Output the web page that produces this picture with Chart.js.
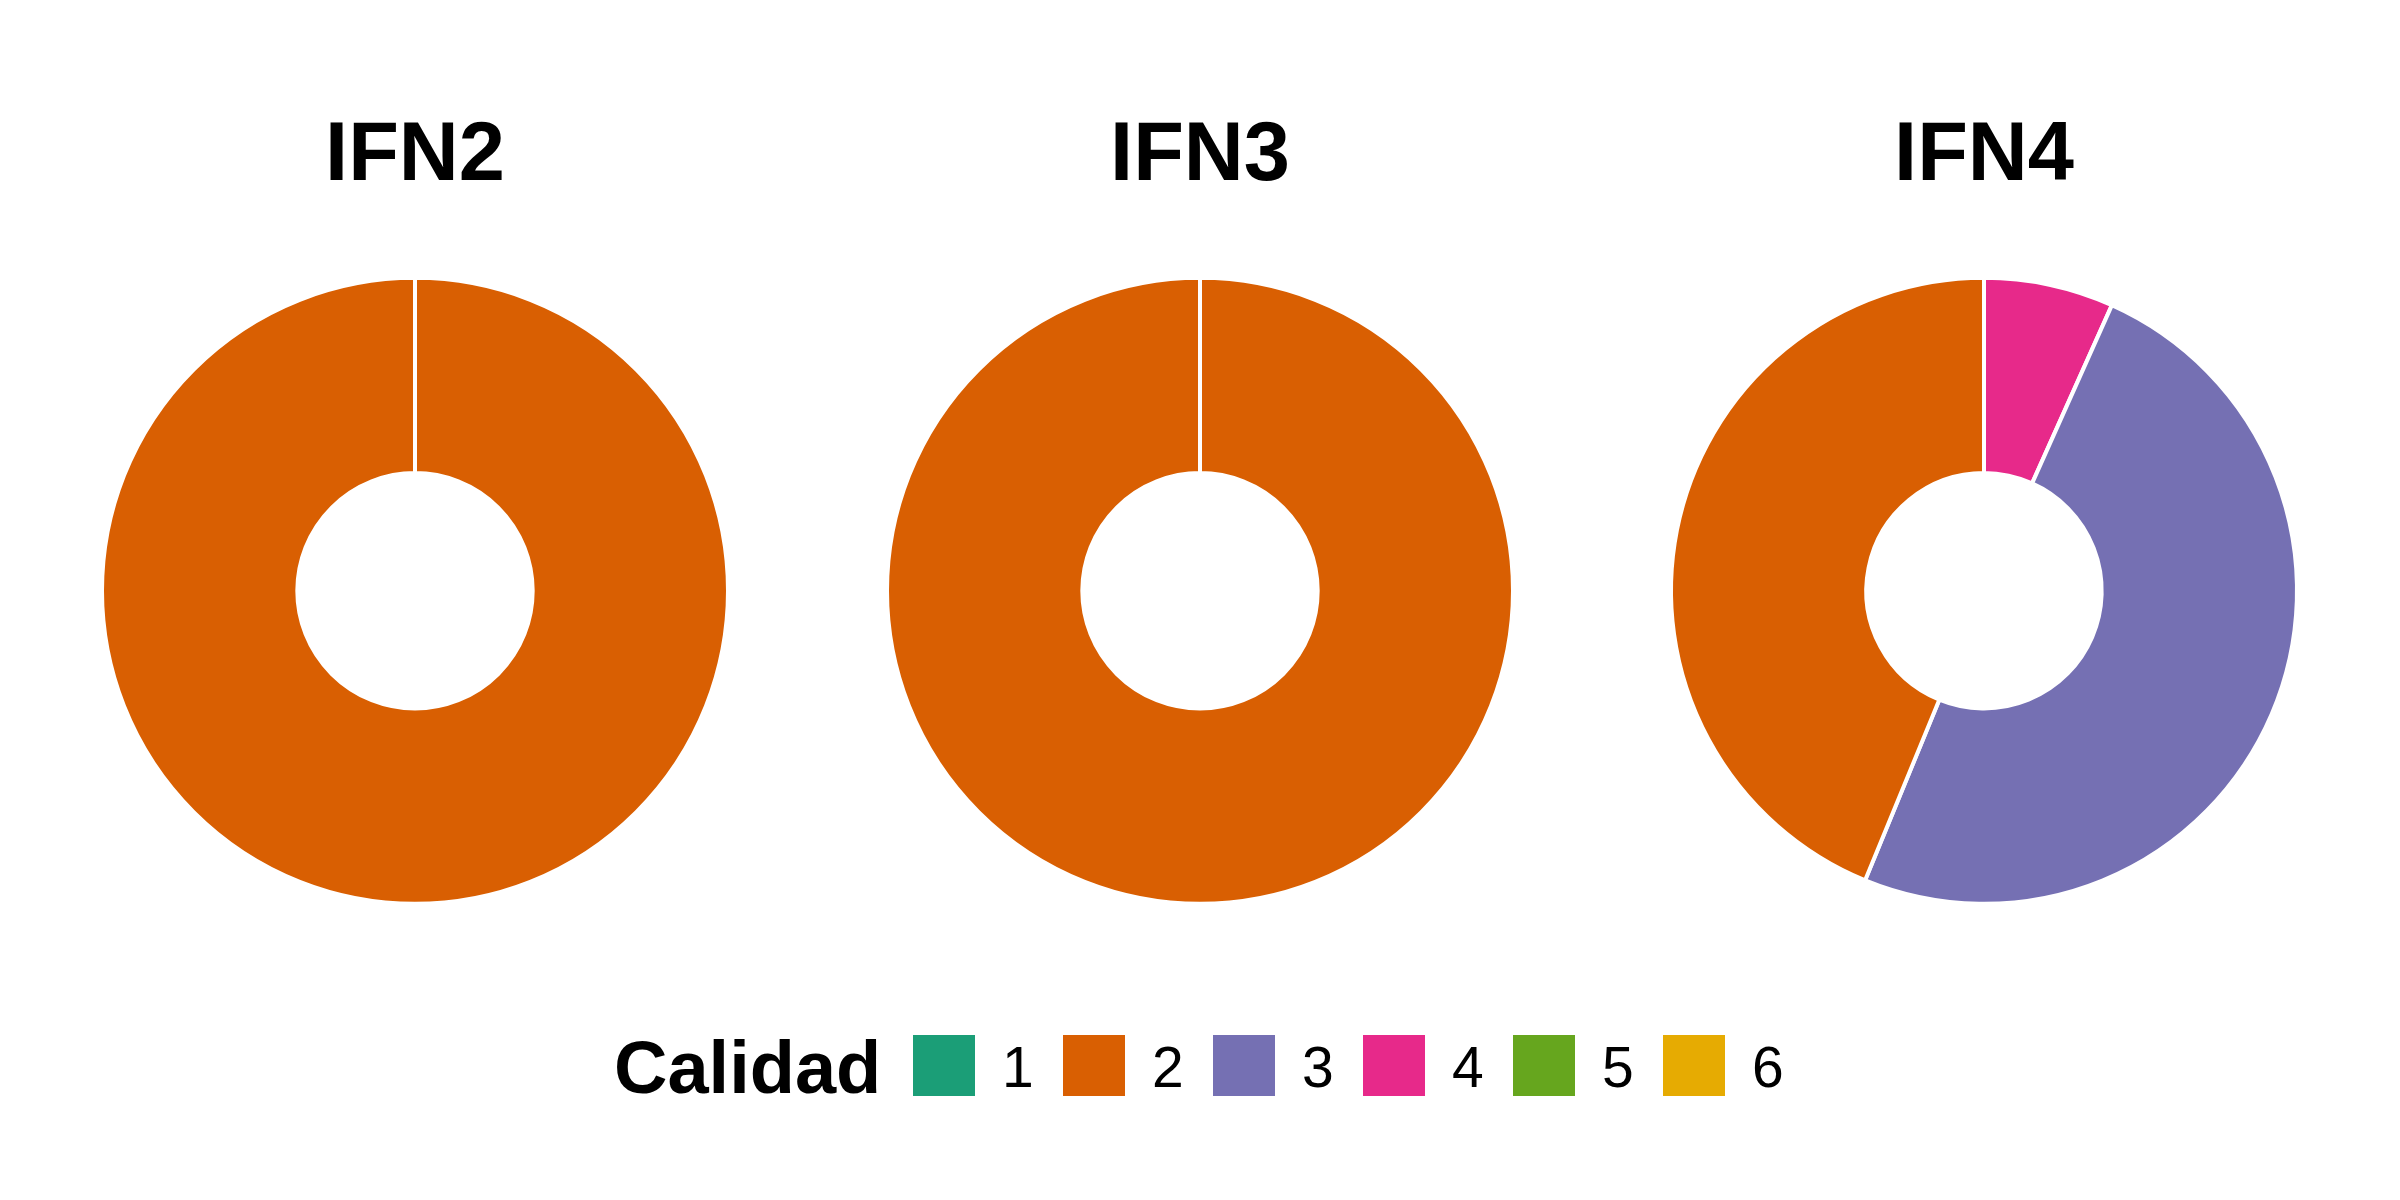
<!DOCTYPE html>
<html>
<head>
<meta charset="utf-8">
<script src="https://cdn.jsdelivr.net/npm/chart.js@4/dist/chart.umd.min.js"></script>
<style>
  html, body { margin: 0; padding: 0; background: #ffffff; }
  body { width: 2400px; height: 1200px; position: relative; overflow: hidden; font-family: "Liberation Sans", Arial, sans-serif; }
  canvas.pie { position: absolute; top: 0; }
  #legend { position: absolute; left: 0; top: 0; width: 2400px; height: 1200px; pointer-events: none; }
  .lg-title { position: absolute; font-weight: bold; font-size: 74px; line-height: 74px; color: #000; white-space: nowrap; }
  .lg-box { position: absolute; width: 62px; height: 61px; }
  .lg-label { position: absolute; font-size: 57px; line-height: 57px; color: #000; white-space: nowrap; }
</style>
</head>
<body>
<canvas id="c0" class="pie" width="784" height="975" style="left:23px"></canvas>
<canvas id="c1" class="pie" width="784" height="975" style="left:808px"></canvas>
<canvas id="c2" class="pie" width="784" height="975" style="left:1592px"></canvas>
<div id="legend"></div>
<script>
// ---- data ----
const categories = ['1', '2', '3', '4', '5', '6'];
const categoryColors = ['#1B9E77', '#D95F02', '#7570B3', '#E7298A', '#66A61E', '#E6AB02'];
const surveys = ['IFN2', 'IFN3', 'IFN4'];
const valuesIFN2 = [0, 100, 0, 0, 0, 0];
const valuesIFN3 = [0, 100, 0, 0, 0, 0];
const valuesIFN4 = [0, 43.8, 49.5, 6.7, 0, 0];
const legendTitle = 'Calidad';

const seriesValues = [valuesIFN2, valuesIFN3, valuesIFN4];

// ---- charts ----
surveys.forEach((name, i) => {
  const vals = seriesValues[i];
  // stacked order drawn clockwise from top: highest category first
  const labels = categories.slice().reverse();
  const data = vals.slice().reverse();
  const colors = categoryColors.slice().reverse();
  new Chart(document.getElementById('c' + i), {
    type: 'doughnut',
    data: {
      labels: labels,
      datasets: [{
        data: data,
        backgroundColor: colors,
        borderColor: '#ffffff',
        borderWidth: 4,
        hoverOffset: 0
      }]
    },
    options: {
      responsive: false,
      maintainAspectRatio: false,
      animation: false,
      radius: 313,
      cutout: '37.6%',
      rotation: 0,
      layout: { padding: 0 },
      plugins: {
        legend: { display: false },
        tooltip: { enabled: false },
        title: {
          display: true,
          text: name,
          color: '#000000',
          font: { family: '"Liberation Sans", Arial, sans-serif', size: 83, weight: 'bold', lineHeight: 1.2 },
          padding: { top: 107, bottom: 0 }
        }
      },
      events: []
    }
  });
});

// ---- legend (HTML text) ----
const lg = document.getElementById('legend');
const t = document.createElement('div');
t.className = 'lg-title';
t.textContent = legendTitle;
t.style.left = '614px';
t.style.top = '1031px';
lg.appendChild(t);
categories.forEach((c, k) => {
  const b = document.createElement('div');
  b.className = 'lg-box';
  b.style.left = (913 + 150 * k) + 'px';
  b.style.top = '1035px';
  b.style.background = categoryColors[k];
  lg.appendChild(b);
  const l = document.createElement('div');
  l.className = 'lg-label';
  l.textContent = c;
  l.style.left = (1002 + 150 * k) + 'px';
  l.style.top = '1039px';
  lg.appendChild(l);
});
</script>
</body>
</html>
